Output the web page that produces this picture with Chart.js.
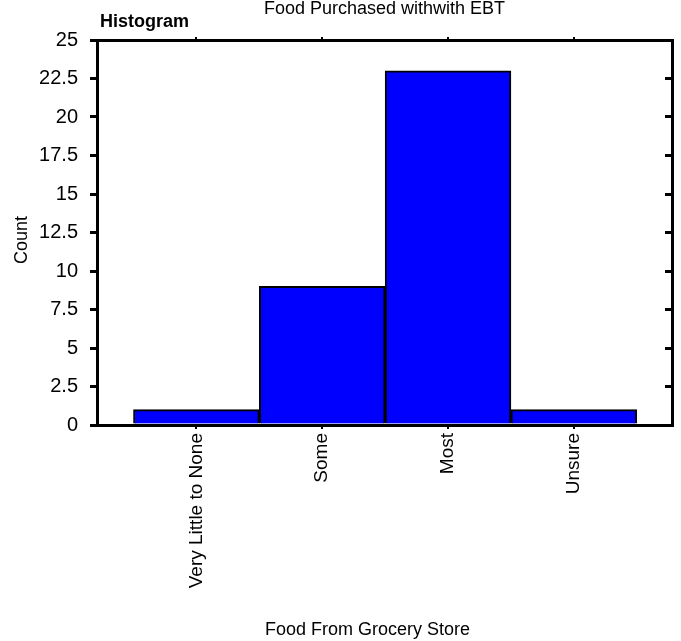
<!DOCTYPE html>
<html>
<head>
<meta charset="utf-8">
<script src="https://cdn.jsdelivr.net/npm/chart.js@4.4.0/dist/chart.umd.min.js"></script>
<style>
  html, body { margin: 0; padding: 0; background: #fff; }
  canvas { display: block; }
</style>
</head>
<body>
<canvas id="chart" width="681" height="641"></canvas>
<script>
const chartTitle = "Food Purchased withwith EBT";
const panelLabel = "Histogram";
const xTitle = "Food From Grocery Store";
const yTitle = "Count";
const categories = ["Very Little to None", "Some", "Most", "Unsure"];
const counts = [1, 9, 23, 1];
const yMin = 0;
const yMax = 25;
const yStep = 2.5;
// x range padded so the bars sit inside the frame like the original
const xMin = -0.79;
const xMax = 3.78;

const fontFamily = "'Liberation Sans', Arial, sans-serif";
Chart.defaults.font.family = fontFamily;
Chart.defaults.color = "#000";

function categoryTicks(scale) {
  scale.ticks = categories.map((_, i) => ({ value: i }));
}

// free-standing texts (title, panel label, axis titles)
const textPlugin = {
  id: "texts",
  afterDraw(chart) {
    const { ctx, chartArea } = chart;
    const midX = (chartArea.left + chartArea.right) / 2;
    ctx.save();
    ctx.fillStyle = "#000";
    ctx.textBaseline = "alphabetic";

    ctx.font = `18px ${fontFamily}`;
    ctx.textAlign = "center";
    ctx.fillText(chartTitle, midX, 14);

    ctx.font = `bold 18px ${fontFamily}`;
    ctx.textAlign = "left";
    ctx.fillText(panelLabel, chartArea.left + 3, 27);

    ctx.font = `18px ${fontFamily}`;
    ctx.textAlign = "left";
    ctx.fillText(xTitle, 265, 635);

    ctx.translate(27, 240);
    ctx.rotate(-Math.PI / 2);
    ctx.font = `18px ${fontFamily}`;
    ctx.textAlign = "center";
    ctx.fillText(yTitle, 0, 0);
    ctx.restore();
  },
};

const ctx = document.querySelector("#chart");
const chart = new Chart(ctx, {
  type: "bar",
  data: {
    datasets: [
      {
        label: yTitle,
        data: counts.map((y, i) => ({ x: i, y })),
        backgroundColor: "#0000ff",
        borderColor: "#000",
        borderWidth: 2,
        barPercentage: 1,
        categoryPercentage: 1,
        xAxisID: "x",
        yAxisID: "y",
      },
    ],
  },
  options: {
    responsive: false,
    animation: false,
    devicePixelRatio: 1,
    layout: { padding: 0 },
    plugins: {
      legend: { display: false },
      tooltip: { enabled: false },
    },
    scales: {
      x: {
        type: "linear",
        position: "bottom",
        offset: false,
        min: xMin,
        max: xMax,
        afterBuildTicks: categoryTicks,
        afterFit: (s) => { s.height = 216; },
        ticks: {
          callback: (v) => categories[v],
          autoSkip: false,
          minRotation: 90,
          maxRotation: 90,
          padding: 4,
          font: { size: 19 },
        },
        grid: { offset: false, drawOnChartArea: false, tickLength: 4, color: "#000", lineWidth: 2 },
        border: { color: "#000", width: 3 },
      },
      x2: {
        type: "linear",
        position: "top",
        offset: false,
        min: xMin,
        max: xMax,
        afterBuildTicks: categoryTicks,
        afterFit: (s) => { s.height = 40; },
        ticks: { display: false },
        grid: { offset: false, drawOnChartArea: false, tickLength: 3, color: "#000", lineWidth: 2 },
        border: { color: "#000", width: 3 },
      },
      y: {
        position: "left",
        min: yMin,
        max: yMax,
        afterFit: (s) => { s.width = 97; },
        ticks: { stepSize: yStep, padding: 12, font: { size: 20 } },
        grid: { drawOnChartArea: false, tickLength: 7, color: "#000", lineWidth: 3 },
        border: { color: "#000", width: 3 },
      },
      y2: {
        position: "right",
        min: yMin,
        max: yMax,
        afterFit: (s) => { s.width = 9; },
        ticks: { stepSize: yStep, display: false },
        // negative length turns the tick marks inward
        grid: { drawOnChartArea: false, tickLength: -7, color: "#000", lineWidth: 3 },
        border: { color: "#000", width: 3 },
      },
    },
  },
  plugins: [textPlugin],
});
</script>
</body>
</html>
